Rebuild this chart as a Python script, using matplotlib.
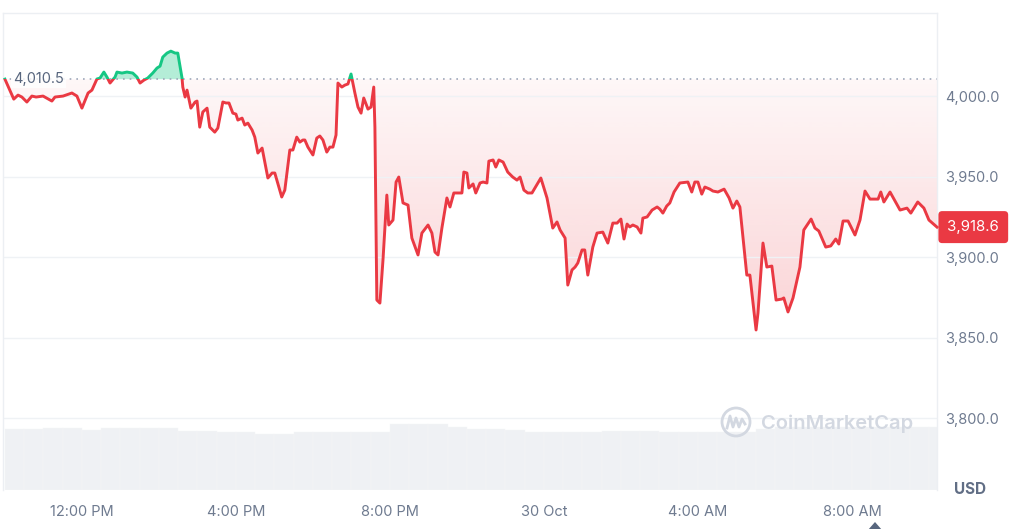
import numpy as np
import matplotlib
matplotlib.use('Agg')
import matplotlib.pyplot as plt
from matplotlib.patches import Rectangle, Circle, Polygon
from matplotlib.path import Path
from matplotlib.colors import to_rgb
from matplotlib.lines import Line2D

plt.rcParams['font.family'] = ['Inter', 'DejaVu Sans']

# ---------------- data ----------------
hours = [10.00,10.23,10.34,10.44,10.57,10.70,10.81,10.99,11.22,11.30,11.51,11.74,11.87,12.00,12.16,12.26,12.39,12.47,12.57,12.65,
         12.73,12.86,12.91,13.04,13.17,13.32,13.43,13.51,13.61,13.71,13.84,13.95,14.03,14.10,14.21,14.31,14.42,14.49,14.60,14.62,
         14.68,14.73,14.83,14.94,14.99,15.06,15.14,15.25,15.32,15.45,15.53,15.66,15.74,15.82,15.92,16.00,16.05,16.16,16.23,16.31,
         16.42,16.49,16.57,16.68,16.83,16.94,17.01,17.19,17.27,17.40,17.48,17.58,17.66,17.74,17.79,17.87,18.00,18.10,18.18,18.26,
         18.36,18.44,18.52,18.60,18.65,18.75,18.83,18.91,18.99,19.09,19.17,19.25,19.32,19.43,19.51,19.58,19.61,19.66,19.74,19.82,
         19.92,19.97,20.08,20.16,20.23,20.34,20.47,20.57,20.73,20.83,20.99,21.09,21.17,21.25,21.35,21.48,21.56,21.66,21.87,21.92,
         22.00,22.05,22.16,22.23,22.34,22.42,22.52,22.57,22.68,22.75,22.83,22.94,23.06,23.19,23.30,23.38,23.48,23.58,23.69,23.92,
         24.08,24.23,24.34,24.42,24.55,24.62,24.73,24.81,24.88,24.99,25.06,25.14,25.27,25.38,25.53,25.66,25.79,25.90,26.00,26.08,
         26.16,26.23,26.31,26.42,26.52,26.57,26.68,26.81,26.94,27.01,27.09,27.19,27.27,27.38,27.53,27.74,27.84,27.92,28.00,28.10,
         28.18,28.31,28.39,28.52,28.68,28.81,28.91,29.01,29.09,29.27,29.35,29.51,29.56,29.69,29.79,29.92,30.03,30.18,30.23,30.34,
         30.47,30.65,30.75,30.94,31.04,31.14,31.32,31.45,31.58,31.66,31.77,31.90,32.08,32.21,32.34,32.47,32.68,32.75,32.83,32.99,
         33.25,33.43,33.53,33.71,33.87,34.00,34.21]

price = [4010.5,3998.1,4000.6,3999.4,3996.3,4000.0,3999.4,4000.0,3996.9,3999.4,4000.0,4001.9,4000.0,3992.5,4001.9,4003.7,4010.6,4011.2,4014.9,4011.8,
         4008.1,4011.8,4014.9,4014.3,4014.9,4014.3,4011.8,4008.1,4009.9,4011.2,4014.3,4017.4,4018.6,4024.2,4026.7,4027.9,4026.7,4026.7,4011.2,4005.6,
         3999.4,4003.7,3992.5,3996.3,3996.9,3980.7,3990.1,3992.5,3980.7,3977.6,3980.1,3996.3,3995.7,3995.7,3989.4,3988.8,3985.1,3986.3,3982.0,3983.2,
         3978.9,3974.5,3964.6,3967.7,3949.1,3952.2,3952.2,3937.3,3941.6,3966.5,3966.5,3974.5,3971.4,3972.7,3972.7,3968.3,3963.4,3973.9,3975.2,3972.7,
         3965.2,3968.3,3968.3,3975.8,4008.1,4005.6,4006.8,4007.5,4013.7,4001.9,3993.2,3989.4,3998.8,3991.9,3993.2,4005.6,3980.7,3873.3,3871.4,3898.2,
         3938.5,3919.9,3923.0,3946.6,3949.7,3933.6,3932.3,3911.8,3901.3,3914.9,3919.9,3914.9,3903.1,3901.3,3918.0,3936.7,3931.1,3939.8,3939.8,3952.8,
         3952.2,3942.9,3945.4,3939.8,3946.0,3946.6,3946.0,3959.6,3960.3,3955.9,3960.3,3959.0,3952.8,3949.7,3947.8,3949.7,3941.6,3939.8,3939.8,3949.1,
         3936.7,3918.0,3921.8,3916.8,3911.8,3882.6,3892.0,3893.8,3896.3,3904.4,3904.4,3888.8,3906.2,3914.9,3915.5,3908.7,3921.1,3921.1,3923.6,3911.2,
         3920.5,3918.7,3919.9,3918.7,3914.9,3924.2,3924.9,3929.2,3931.1,3929.8,3927.3,3931.7,3933.6,3940.4,3946.0,3946.6,3940.4,3946.6,3946.6,3939.1,
         3943.5,3942.2,3941.0,3940.4,3942.2,3936.7,3930.4,3934.8,3931.1,3888.8,3888.8,3854.7,3865.2,3908.7,3893.8,3894.4,3873.3,3873.9,3874.6,3865.9,
         3874.6,3893.8,3916.8,3923.6,3918.0,3916.2,3906.2,3906.9,3911.2,3908.1,3922.4,3922.4,3913.7,3923.0,3941.0,3936.0,3936.0,3940.4,3934.2,3940.4,
         3929.2,3930.4,3927.3,3934.2,3930.4,3923.0,3918.6]

baseline = 4010.5
last_price = 3918.6

vol_hours = [10.0,10.5,11.0,11.5,12.0,12.5,13.0,13.5,14.0,14.5,15.0,15.5,16.0,16.5,17.0,17.5,18.0,18.5,19.0,19.5,
             20.0,20.5,21.0,21.5,22.0,22.5,23.0,23.5,24.0,24.5,25.0,25.5,26.0,26.5,27.0,27.5,28.0,28.5,29.0,29.5,
             30.0,30.5,31.0,31.5,32.0,32.5,33.0,33.5,34.0]
volume_b = [15.25,15.25,15.5,15.5,15.0,15.5,15.5,15.5,15.5,14.8,14.75,14.6,14.5,13.9,13.9,14.4,14.4,14.6,14.6,14.6,
            16.5,16.5,16.5,15.7,15.2,15.2,15.0,14.4,14.4,14.4,14.5,14.75,14.75,14.75,14.6,14.6,14.6,14.6,14.6,15.25,
            15.75,15.75,15.75,15.75,15.75,15.75,15.75,15.75,15.75]

x_tick_hours = [12, 16, 20, 24, 28, 32]
x_tick_labels = ['12:00 PM', '4:00 PM', '8:00 PM', '30 Oct', '4:00 AM', '8:00 AM']
y_ticks = [3800, 3850, 3900, 3950, 4000]

# ---------------- style ----------------
RED = '#ea3943'
GREEN = '#16c784'
TXT = '#6f7b90'
GRID = '#eff2f5'

n = min(len(hours), len(price))
t = np.array(hours[:n])
p = np.array(price[:n])

W, H = 1024, 529
fig = plt.figure(figsize=(W / 100, H / 100), dpi=100)
fig.patch.set_facecolor('white')

def fx(px):
    return px / W

def fy(py):
    return 1 - py / H

left, right, top, bottom = 3, 937, 13, 490
ax = fig.add_axes([fx(left), fy(bottom), fx(right) - fx(left), fy(top) - fy(bottom)])
xlim = (9.95, 34.21)
ylim = (3755.3, 4051.6)

# volume axis (behind)
axv = ax.twinx()
axv.set_zorder(ax.get_zorder() - 1)
ax.patch.set_visible(False)
axv.patch.set_facecolor('white')
axv.bar(vol_hours, volume_b, width=0.5, align='edge', color='#eff1f4', edgecolor='#f5f6f8', linewidth=0.3)
axv.set_ylim(0, (bottom - top) / 4.0)
axv.set_yticks([])
for s in axv.spines.values():
    s.set_visible(False)

# grid lines
for yt in y_ticks:
    ax.axhline(yt, color=GRID, lw=1.0, zorder=1.5)

# green fill (above baseline)
ax.fill_between(t, p, baseline, where=p >= baseline, interpolate=True,
                facecolor=GREEN, alpha=0.32, edgecolor='none', zorder=2)

# red gradient fill (below baseline)
poly = ax.fill_between(t, p, baseline, where=p <= baseline, interpolate=True,
                       facecolor='none', edgecolor='none', zorder=1)
clip_path = Path.make_compound_path(*poly.get_paths())
g = np.linspace(0, 1, 256).reshape(-1, 1)
rgba = np.zeros((256, 1, 4))
rgba[..., :3] = to_rgb(RED)
rgba[..., 3] = (0.22 - 0.18 * g)
im = ax.imshow(rgba, extent=[xlim[0], xlim[1], p.min(), baseline], origin='lower',
               aspect='auto', zorder=1.2, interpolation='bilinear')
im.set_clip_path(clip_path, transform=ax.transData)

# baseline dotted line
ax.axhline(baseline, color='#9ea8ba', lw=1.2, linestyle=(0, (1, 3.0)), zorder=2.5)

# price line split at baseline
big = 1000
lr, = ax.plot(t, p, color=RED, lw=2.1, zorder=3, solid_joinstyle='round')
lr.set_clip_path(Rectangle((xlim[0] - 1, baseline - big), 100, big, transform=ax.transData))
lg, = ax.plot(t, p, color=GREEN, lw=2.1, zorder=3, solid_joinstyle='round')
lg.set_clip_path(Rectangle((xlim[0] - 1, baseline), 100, big, transform=ax.transData))

ax.set_xlim(*xlim)
ax.set_ylim(*ylim)
axv.set_xlim(*xlim)

# baseline label
ax.annotate('4,010.5', xy=(0.0107, baseline), xycoords=('axes fraction', 'data'),
            ha='left', va='center', fontsize=10.5, color='#58667e', zorder=4,
            bbox=dict(boxstyle='square,pad=0.15', fc='white', ec='none', alpha=0.8))

# axes ticks
ax.yaxis.tick_right()
ax.set_yticks(y_ticks)
ax.set_yticklabels([f'{v:,.1f}' for v in y_ticks])
ax.set_xticks(x_tick_hours)
ax.set_xticklabels(x_tick_labels)
ax.tick_params(axis='y', length=0, pad=6, labelsize=10.5, labelcolor=TXT)
ax.tick_params(axis='x', length=0, pad=11, labelsize=10.5, labelcolor=TXT)
for side in ['top', 'left', 'right']:
    ax.spines[side].set_color('#eceff3')
    ax.spines[side].set_linewidth(1.0)
ax.spines['bottom'].set_visible(False)

# last price tag
ax.annotate(f'{last_price:,.1f}', xy=(1.0, last_price), xycoords=('axes fraction', 'data'),
            xytext=(7.5, 0), textcoords='offset points', ha='left', va='center',
            fontsize=10.8, color='white', zorder=6, annotation_clip=False,
            bbox=dict(boxstyle='round,pad=0.6,rounding_size=0.25', fc=RED, ec='none'))

# USD label
fig.text(fx(970), fy(489), 'USD', ha='center', va='center', fontsize=11,
         fontweight='bold', color='#616e85')

# small triangle at bottom
fig.add_artist(Polygon([[fx(868), fy(530)], [fx(875), fy(522)], [fx(882), fy(530)]],
                       closed=True, transform=fig.transFigure, fc='#58667e', ec='none'))

# watermark
WM = '#d3d8e1'
fig.add_artist(Circle((736 / 100, (H - 422) / 100), 0.14, transform=fig.dpi_scale_trans,
                      fill=False, ec=WM, lw=2.0))
wave_x = [727, 730, 733, 736, 739, 742, 745]
wave_y = [428, 416, 427, 418, 427, 419, 424]
fig.add_artist(Line2D([fx(v) for v in wave_x], [fy(v) for v in wave_y],
                      transform=fig.transFigure, color=WM, lw=2.0, solid_joinstyle='round'))
fig.text(fx(761), fy(424), 'CoinMarketCap', ha='left', va='center', fontsize=14.5,
         fontweight='semibold', color=WM)

fig.savefig('out.png', dpi=100, facecolor='white')
